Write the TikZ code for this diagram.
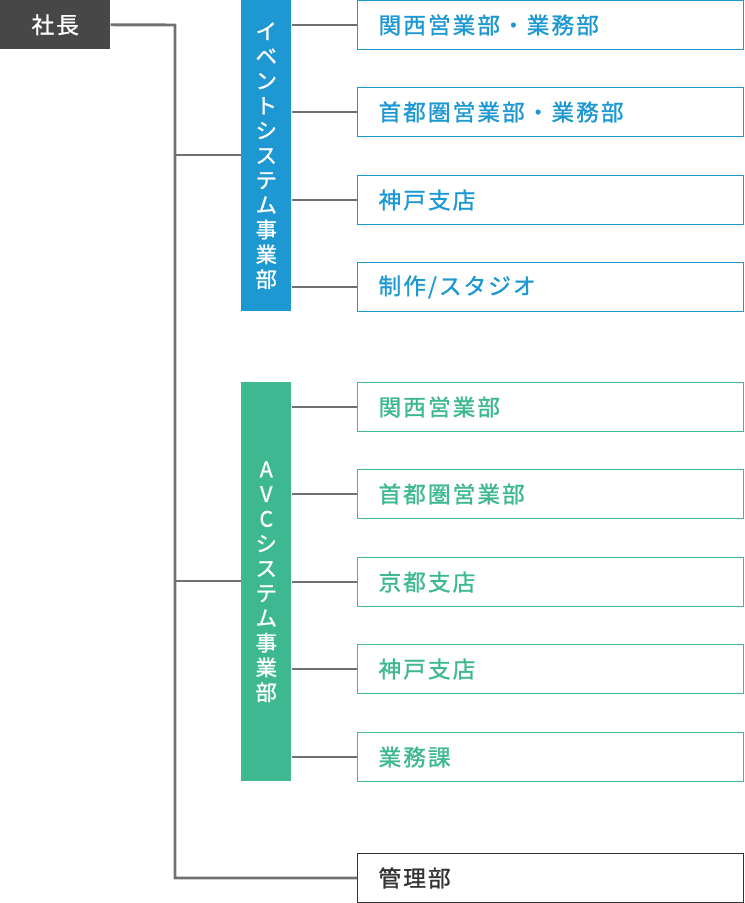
\documentclass[tikz,border=0pt]{standalone}
\usepackage{fontspec}
\newfontfamily\jp[FakeBold=1.2]{Noto Sans CJK JP}
\newfontfamily\jpsp[FakeBold=1.2,LetterSpace=9]{Noto Sans CJK JP}
\definecolor{evblue}{HTML}{1D98D2}
\definecolor{avgreen}{HTML}{3DB890}
\definecolor{linegray}{HTML}{707070}
\definecolor{headgray}{HTML}{474747}
\definecolor{txtgray}{HTML}{333333}
\begin{document}
\begin{tikzpicture}[x=0.75pt,y=-0.75pt,
  conn/.style={draw=linegray,line width=2.2pt},
  boxbase/.style={draw,line width=0.8pt,minimum width=386*0.75pt,minimum height=49*0.75pt,anchor=west,inner sep=0pt,text width=344*0.75pt,align=left,font=\jpsp\fontsize{17}{19}\selectfont},
  bluebox/.style={boxbase,draw=evblue,text=evblue},
  greenbox/.style={boxbase,draw=avgreen,text=avgreen},
  graybox/.style={boxbase,draw=txtgray,text=txtgray},
  bar/.style={minimum width=50*0.75pt,inner sep=0pt,anchor=north west,text=white,align=center,font=\jp\fontsize{16}{18.6}\selectfont}]
\useasboundingbox (0,0) rectangle (744,903);
% head
\node[fill=headgray,text=white,minimum width=110*0.75pt,minimum height=49*0.75pt,inner sep=0pt,anchor=north west,font=\jpsp\fontsize{17}{19}\selectfont] (head) at (0,0) {社長};
\coordinate (t0) at (175,25);
\coordinate (tend) at (175,878);
\coordinate (tev) at (175,155);
\coordinate (tav) at (175,581);
% bars
\node[bar,fill=evblue,minimum height=311*0.75pt] (ev) at (241,0) {イ\\ベ\\ン\\ト\\シ\\ス\\テ\\ム\\事\\業\\部};
\node[bar,fill=avgreen,minimum height=399*0.75pt] (av) at (241,382) {A\\V\\C\\シ\\ス\\テ\\ム\\事\\業\\部};
% blue boxes
\node[bluebox] (b1) at (357,25) {関西営業部・業務部};
\node[bluebox] (b2) at (357,112) {首都圏営業部・業務部};
\node[bluebox] (b3) at (357,200) {神戸支店};
\node[bluebox] (b4) at (357,287) {制作/スタジオ};
% green boxes
\node[greenbox] (g1) at (357,407) {関西営業部};
\node[greenbox] (g2) at (357,494) {首都圏営業部};
\node[greenbox] (g3) at (357,582) {京都支店};
\node[greenbox] (g4) at (357,669) {神戸支店};
\node[greenbox] (g5) at (357,757) {業務課};
% admin
\node[graybox] (m1) at (357,878) {管理部};
% connectors
\draw[conn] (head.east) -- (t0) -- (tend) -- (m1.west);
\draw[conn] (tev) -- (tev -| ev.west);
\draw[conn] (tav) -- (tav -| av.west);
\foreach \b in {b1,b2,b3,b4} \draw[conn] (\b.west -| ev.east) -- (\b.west);
\foreach \b in {g1,g2,g3,g4,g5} \draw[conn] (\b.west -| av.east) -- (\b.west);
\end{tikzpicture}
\end{document}
